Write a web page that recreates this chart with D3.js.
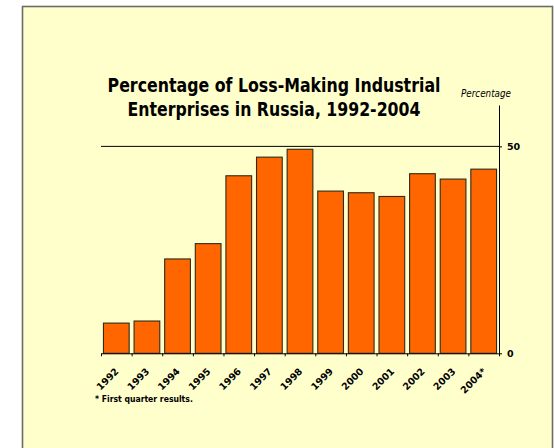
<!DOCTYPE html>
<html>
<head>
<meta charset="utf-8">
<script src="https://cdn.jsdelivr.net/npm/d3@7"></script>
<style>
    body { margin: 0; background: #fff; }
    svg { display: block; }
    .axis path, .axis line { stroke: #000; }
</style>
</head>
<body>
<div id="chart"></div>
<script>
// data
let years = ["1992", "1993", "1994", "1995", "1996", "1997", "1998",
    "1999", "2000", "2001", "2002", "2003", "2004*"];
let lossShare = [7.3, 7.8, 22.8, 26.5, 42.9, 47.4, 49.3, 39.2, 38.8, 37.9, 43.4, 42.1, 44.5];
let yTicks = [0, 50];
let titleLines = ["Percentage of Loss-Making Industrial", "Enterprises in Russia, 1992-2004"];
let yLabel = "Percentage";
let footnote = "* First quarter results.";

let width = 554,
    height = 448;

let font = "DejaVu Sans, Verdana, sans-serif";

let svg = d3.select("#chart").append("svg")
    .attr("width", width)
    .attr("height", height);

// squeeze a text horizontally to a given width (Tahoma is narrower than DejaVu)
function fitText(sel, cx, cy, target, anchor) {
    sel.each(function () {
        let t = d3.select(this);
        let w = this.getComputedTextLength();
        let k = Math.min(1, target / w);
        t.attr("x", 0).attr("y", 0)
            .attr("text-anchor", anchor)
            .attr("transform", "translate(" + cx + "," + cy + ") scale(" + k + ",1)");
    });
}

// panel behind everything
svg.append("rect")
    .attr("x", 22.5)
    .attr("y", 6.5)
    .attr("width", 530)
    .attr("height", 460)
    .attr("fill", "#ffffcc")
    .attr("stroke", "#6b6b6b")
    .attr("stroke-width", 1.6);

let plot = {left: 101, right: 499, top: 105, bottom: 353.3};

// scales
let x = d3.scaleBand()
    .domain(years)
    .range([plot.left, plot.right])
    .paddingInner(0.16)
    .paddingOuter(0.08);

let xEdge = d3.scaleLinear()
    .domain([0, years.length])
    .range([plot.left, plot.right]);

let y = d3.scaleLinear()
    .domain([0, 60])
    .range([plot.bottom, plot.top]);

// gridline at 50
svg.append("line")
    .attr("x1", plot.left)
    .attr("x2", plot.right)
    .attr("y1", y(50))
    .attr("y2", y(50))
    .attr("stroke", "#000")
    .attr("stroke-width", 1);

// bars
svg.selectAll("rect.bar")
    .data(lossShare)
    .enter().append("rect")
    .attr("class", "bar")
    .attr("x", (d, i) => x(years[i]))
    .attr("y", d => y(d))
    .attr("width", x.bandwidth())
    .attr("height", d => y(0) - y(d))
    .attr("fill", "#ff6600")
    .attr("stroke", "#2e2a1c")
    .attr("stroke-width", 1.1);

// x axis: ticks between categories, labels drawn separately
let xAxis = d3.axisBottom(xEdge)
    .tickValues(d3.range(years.length + 1))
    .tickFormat("")
    .tickSize(3)
    .tickSizeOuter(0);

svg.append("g")
    .attr("class", "x axis")
    .attr("transform", "translate(0," + plot.bottom + ")")
    .call(xAxis);

svg.selectAll("text.xlab")
    .data(years)
    .enter().append("text")
    .attr("class", "xlab")
    .attr("transform", d => "translate(" + (x(d) + x.bandwidth() / 2 + 3) + ",372) rotate(-45)")
    .attr("text-anchor", "end")
    .attr("font-family", font)
    .attr("font-weight", "bold")
    .attr("font-size", "9.5px")
    .text(d => d);

// y axis on the right
let yAxis = d3.axisRight(y)
    .tickValues(yTicks)
    .tickSize(3)
    .tickPadding(5)
    .tickSizeOuter(0);

let yg = svg.append("g")
    .attr("class", "y axis")
    .attr("transform", "translate(" + plot.right + ",0)")
    .call(yAxis);

yg.selectAll("text")
    .attr("font-family", font)
    .attr("font-weight", "bold")
    .attr("font-size", "9.5px")
    .attr("fill", "#000");

svg.append("text")
    .attr("font-family", font)
    .attr("font-style", "italic")
    .attr("font-size", "10px")
    .text(yLabel)
    .call(fitText, 486, 97, 50, "middle");

// title
let titleWidths = [333, 293];
svg.selectAll("text.title")
    .data(titleLines)
    .enter().append("text")
    .attr("class", "title")
    .attr("font-family", font)
    .attr("font-weight", "bold")
    .attr("font-size", "19px")
    .text(d => d)
    .each(function (d, i) {
        d3.select(this).call(fitText, 274, 92.3 + i * 23.7, titleWidths[i], "middle");
    });

// footnote
svg.append("text")
    .attr("font-family", font)
    .attr("font-weight", "bold")
    .attr("font-size", "8.5px")
    .text(footnote)
    .call(fitText, 95, 401.5, 98, "start");
</script>
</body>
</html>
